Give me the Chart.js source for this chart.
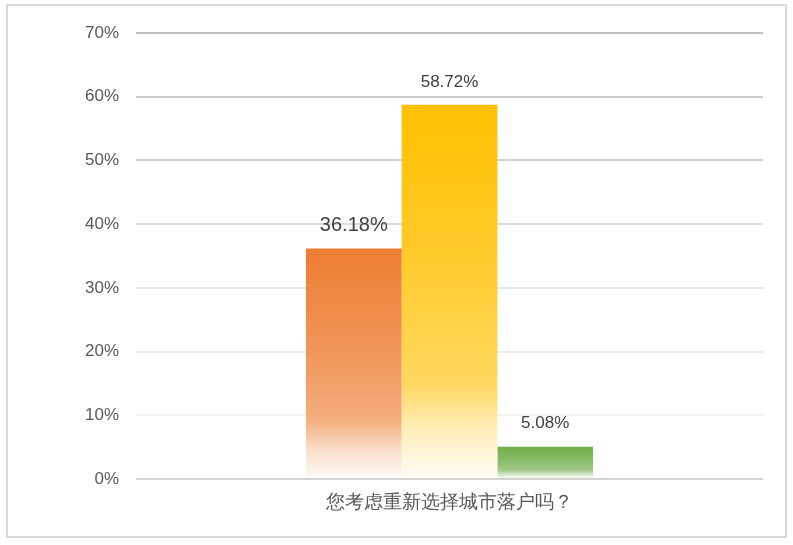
<!DOCTYPE html>
<html>
<head>
<meta charset="utf-8">
<script src="https://cdn.jsdelivr.net/npm/chart.js@4"></script>
<style>
html,body{margin:0;padding:0;background:#fff;}
#wrap{position:absolute;left:0;top:0;width:793px;height:545px;}
</style>
</head>
<body>
<div id="wrap"><canvas id="c" width="793" height="545"></canvas></div>
<script>
const categories = ['您考虑重新选择城市落户吗？'];
const seriesNames = ['选项一', '选项二', '选项三'];
const seriesValues = [[36.18], [58.72], [5.08]];
const seriesColors = ['#ED7D31', '#FFC000', '#70AD47'];
const labelSizes = [20, 17, 17];
const yTicks = [0, 10, 20, 30, 40, 50, 60, 70];
const gridColors = ['#d4d4d4', '#f2f2f2', '#ececec', '#e6e6e6', '#dcdcdc', '#d2d2d2', '#c9c9c9', '#bfbfbf'];

const FONT = "'Liberation Sans', Arial, sans-serif";

function hexToRgb(h){h=h.replace('#','');return [parseInt(h.substr(0,2),16),parseInt(h.substr(2,2),16),parseInt(h.substr(4,2),16)];}
function lighten(hex,t){const c=hexToRgb(hex);return 'rgb('+c.map(v=>Math.round(v+(255-v)*t)).join(',')+')';}
const fadeStops = [[0,0],[0.4,0.17],[0.74,0.37],[0.87,0.73],[1,0.97]];

function gradientFill(ctx){
  const chart = ctx.chart;
  const base = seriesColors[ctx.datasetIndex];
  if(!chart.chartArea || ctx.type !== 'data') return base;
  const y = chart.scales.y;
  const top = y.getPixelForValue(ctx.raw);
  const bottom = y.getPixelForValue(0);
  const g = chart.ctx.createLinearGradient(0, top, 0, bottom);
  fadeStops.forEach(([p,t]) => g.addColorStop(p, lighten(base,t)));
  return g;
}

const borderPlugin = {
  id:'frame',
  beforeDraw(chart){
    const c = chart.ctx;
    c.save();
    c.fillStyle='#fff';
    c.fillRect(0,0,chart.width,chart.height);
    c.strokeStyle='#d9d9d9';
    c.lineWidth=2;
    c.strokeRect(7,5,779,532);
    c.restore();
  }
};

const labelPlugin = {
  id:'valueLabels',
  afterDatasetsDraw(chart){
    const c = chart.ctx;
    c.save();
    c.textAlign='center';
    c.textBaseline='middle';
    chart.data.datasets.forEach((ds,i)=>{
      const meta = chart.getDatasetMeta(i);
      meta.data.forEach((el,j)=>{
        c.font = labelSizes[i] + 'px ' + FONT;
        c.fillStyle = '#404040';
        c.fillText(ds.data[j].toFixed(2) + '%', el.x, el.y - 23);
      });
    });
    c.restore();
  }
};

new Chart(document.getElementById('c'), {
  type:'bar',
  data:{
    labels: categories,
    datasets: seriesNames.map((n,i)=>({
      label:n,
      data:seriesValues[i],
      backgroundColor: gradientFill,
      borderWidth:0,
      barPercentage:1,
      categoryPercentage:0.458
    }))
  },
  options:{
    responsive:false,
    animation:false,
    devicePixelRatio:1,
    layout:{padding:{left:0,right:30,top:33,bottom:0}},
    plugins:{legend:{display:false},tooltip:{enabled:false}},
    scales:{
      x:{
        grid:{display:false,drawTicks:false},
        border:{display:false},
        ticks:{color:'#595959',font:{family:FONT,size:19},padding:12},
        afterFit(s){s.height=66;}
      },
      y:{
        min:0,max:70,
        afterBuildTicks(s){s.ticks = yTicks.map(v=>({value:v}));},
        ticks:{color:'#595959',font:{family:FONT,size:17},padding:17,callback:v=>v+'%'},
        grid:{color:c=>gridColors[c.index]||'#e0e0e0',lineWidth:2,drawTicks:false},
        border:{display:false},
        afterFit(s){s.width=136;}
      }
    }
  },
  plugins:[borderPlugin,labelPlugin]
});
</script>
</body>
</html>
